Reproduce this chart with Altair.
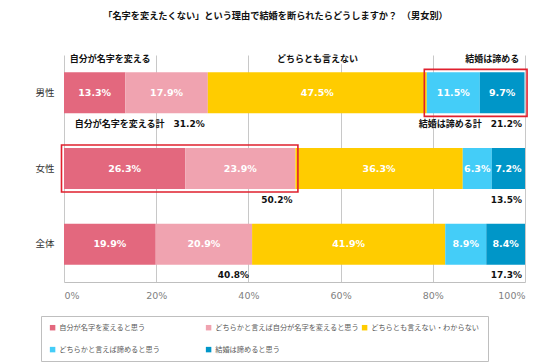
import altair as alt
import pandas as pd

rows = ["男性", "女性", "全体"]
categories = [
    "自分が名字を変えると思う",
    "どちらかと言えば自分が名字を変えると思う",
    "どちらとも言えない・わからない",
    "どちらかと言えば諦めると思う",
    "結婚は諦めると思う",
]
colors = ["#e3687e", "#f0a3b0", "#ffcc00", "#44cdf8", "#0096c8"]
male = [13.3, 17.9, 47.5, 11.5, 9.7]
female = [26.3, 23.9, 36.3, 6.3, 7.2]
total = [19.9, 20.9, 41.9, 8.9, 8.4]
x_ticks = [0, 20, 40, 60, 80, 100]

header_labels = ["自分が名字を変える", "どちらとも言えない", "結婚は諦める"]
header_pos = [10, 55, 92.9]

sum_rows = ["男性", "男性", "女性", "女性", "全体", "全体"]
sum_labels = ["自分が名字を変える計　31.2%", "結婚は諦める計　21.2%", "50.2%", "13.5%", "40.8%", "17.3%"]
sum_pos = [31.2, 100, 50.2, 100, 40.8, 100]

box_rows = ["男性", "女性"]
box_first = [3, 0]
box_last = [4, 1]

JP = "Noto Sans CJK JP"
NUM = "DejaVu Sans, Noto Sans CJK JP"

recs = []
bounds = {}
for r, vals in zip(rows, [male, female, total]):
    s = 0.0
    for i, (c, v) in enumerate(zip(categories, vals)):
        recs.append({"row": r, "cat": c, "order": i, "start": s, "end": s + v,
                     "mid": s + v / 2, "label": f"{v}%"})
        bounds[(r, i)] = (s, s + v)
        s += v
bars_df = pd.DataFrame(recs)

box_df = pd.DataFrame({
    "row": box_rows,
    "start": [bounds[(r, a)][0] for r, a in zip(box_rows, box_first)],
    "end": [bounds[(r, b)][1] for r, b in zip(box_rows, box_last)],
})
head_df = pd.DataFrame({"label": header_labels, "pos": header_pos})
sum_df = pd.DataFrame({"row": sum_rows, "label": sum_labels, "pos": sum_pos})

yscale = alt.Scale(domain=rows, paddingInner=0, paddingOuter=0)
xscale = alt.Scale(domain=[0, 100], nice=False)

bars = alt.Chart(bars_df).mark_bar(size=41).encode(
    x=alt.X("start:Q", scale=xscale,
            axis=alt.Axis(values=x_ticks, labelExpr="datum.value + '%'", title=None,
                          grid=True, gridColor="#c8c8c8", ticks=False,
                          domainColor="#bfbfbf", labelColor="#7f7f7f",
                          labelFont="DejaVu Sans", labelFontSize=9.5, labelPadding=8)),
    x2="end:Q",
    y=alt.Y("row:N", scale=yscale, sort=rows,
            axis=alt.Axis(title=None, domain=False, ticks=False, grid=False,
                          labelFont=JP, labelFontSize=9.5, labelColor="#333333",
                          labelPadding=10)),
    color=alt.Color("cat:N", scale=alt.Scale(domain=categories, range=colors),
                    legend=alt.Legend(title=None, orient="none", legendX=-23, legendY=261,
                                      direction="horizontal",
                                      columns=3, gridAlign="all", symbolType="square",
                                      symbolSize=30, symbolStrokeWidth=0,
                                      labelFont=JP, labelFontSize=7.2, labelColor="#595959",
                                      labelOffset=3, strokeColor="#bfbfbf", padding=8,
                                      rowPadding=14, columnPadding=2)),
    order=alt.Order("order:Q"),
)

labels = alt.Chart(bars_df).mark_text(
    color="white", fontWeight="bold", font="DejaVu Sans", fontSize=9.5, baseline="middle"
).encode(
    x=alt.X("mid:Q", scale=xscale),
    y=alt.Y("row:N", scale=yscale, sort=rows),
    text="label:N",
)

boxes = alt.Chart(box_df).mark_bar(
    size=47, filled=False, stroke="#e0202e", strokeWidth=1.6, xOffset=-2.5, x2Offset=2.5
).encode(
    x=alt.X("start:Q", scale=xscale),
    x2="end:Q",
    y=alt.Y("row:N", scale=yscale, sort=rows),
)

head_halo = alt.Chart(head_df).mark_text(
    font=JP, fontSize=9, fontWeight="bold", color="white", stroke="white", strokeWidth=4,
    baseline="middle", align="center"
).encode(x=alt.X("pos:Q", scale=xscale), y=alt.value(4), text="label:N")

heads = alt.Chart(head_df).mark_text(
    font=JP, fontSize=9, fontWeight="bold", color="#111111",
    baseline="middle", align="center"
).encode(x=alt.X("pos:Q", scale=xscale), y=alt.value(4), text="label:N")

sums = alt.Chart(sum_df).mark_text(
    font=NUM, fontSize=9, fontWeight="bold", color="#111111",
    baseline="middle", align="right", dx=-3, yOffset=31
).encode(
    x=alt.X("pos:Q", scale=xscale),
    y=alt.Y("row:N", scale=yscale, sort=rows),
    text="label:N",
)

chart = alt.layer(bars, labels, boxes, head_halo, heads, sums).properties(
    width=461, height=227,
    title=alt.TitleParams(
        "「名字を変えたくない」という理由で結婚を断られたらどうしますか？　（男女別）",
        font=JP, fontSize=9.2, fontWeight="bold", color="#111111",
        anchor="middle", dx=-19, offset=34),
    autosize=alt.AutoSizeParams(type="none"),
    padding={"left": 56, "top": 47, "right": 17, "bottom": 90},
).configure_view(stroke=None)

chart.save("out.html", embed_options={"renderer": "svg", "actions": False})
